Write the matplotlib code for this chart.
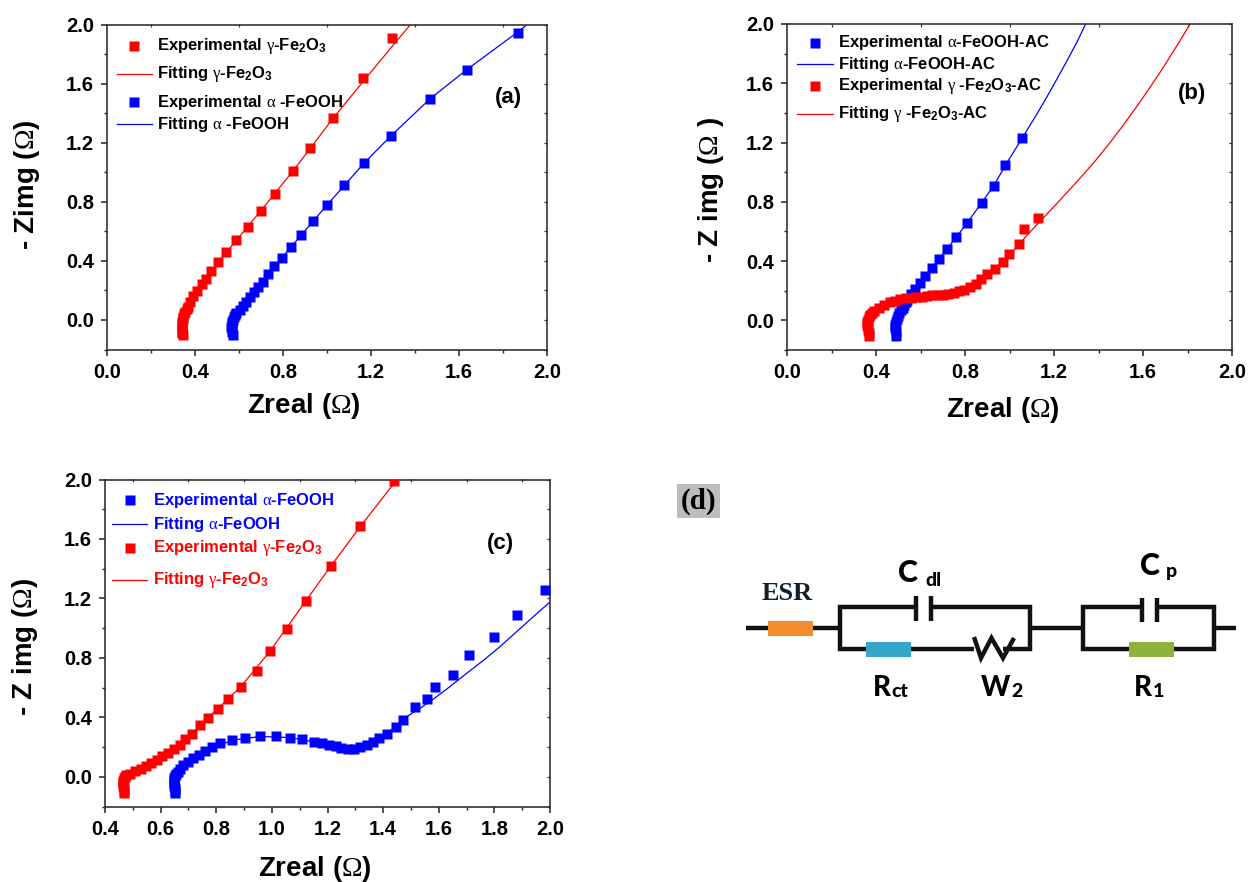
#!/usr/bin/env python

# Nyquist plots (a, b, c) and equivalent circuit (d)

import matplotlib
matplotlib.use('Agg')
import matplotlib.pyplot as plt
from matplotlib.patches import Rectangle
from matplotlib.ticker import MultipleLocator, FormatStrFormatter

plt.rcParams['font.family'] = 'Liberation Sans'
plt.rcParams['font.weight'] = 'bold'
plt.rcParams['mathtext.fontset'] = 'custom'
plt.rcParams['mathtext.rm'] = 'Liberation Sans:bold'
plt.rcParams['mathtext.it'] = 'Liberation Serif:normal'
plt.rcParams['mathtext.bf'] = 'Liberation Sans:bold'
plt.rcParams['mathtext.cal'] = 'Liberation Serif:normal'

W, H = 1249, 882
RED = '#ff0000'
BLUE = '#0000ff'

# panel a
a_red_x = [1.295, 1.162, 1.027, 0.924, 0.844, 0.764, 0.698, 0.639, 0.588, 0.542, 0.506, 0.473, 0.450,
           0.430, 0.409, 0.392, 0.379, 0.367, 0.356, 0.347, 0.342, 0.339, 0.341, 0.344,
           0.362, 0.351, 0.344, 0.340, 0.340, 0.343]
a_red_y = [1.906, 1.640, 1.364, 1.161, 1.006, 0.855, 0.737, 0.631, 0.539, 0.458, 0.395, 0.334, 0.280,
           0.241, 0.198, 0.162, 0.124, 0.090, 0.056, 0.023, -0.011, -0.045, -0.079, -0.100,
           0.073, 0.040, 0.006, -0.028, -0.062, -0.090]
a_red_fit_x = [0.344, 0.339, 0.347, 0.379, 0.430, 0.506, 0.588, 0.698, 0.844, 1.027, 1.162, 1.295, 1.380]
a_red_fit_y = [-0.100, -0.045, 0.023, 0.124, 0.241, 0.395, 0.539, 0.737, 1.006, 1.364, 1.610, 1.850, 2.000]
a_blue_x = [1.868, 1.636, 1.468, 1.291, 1.170, 1.079, 1.000, 0.936, 0.882, 0.836, 0.795, 0.761, 0.730,
            0.708, 0.688, 0.670, 0.652, 0.633, 0.618, 0.603, 0.588, 0.576, 0.568, 0.565, 0.570, 0.573,
            0.582, 0.572, 0.566, 0.567]
a_blue_y = [1.940, 1.695, 1.496, 1.247, 1.064, 0.916, 0.778, 0.670, 0.573, 0.494, 0.422, 0.363, 0.311,
            0.260, 0.221, 0.187, 0.153, 0.124, 0.095, 0.068, 0.045, 0.018, -0.011, -0.045, -0.079, -0.100,
            0.031, 0.003, -0.028, -0.062]
a_blue_fit_x = [0.573, 0.565, 0.576, 0.618, 0.670, 0.761, 0.882, 1.000, 1.170, 1.291, 1.468, 1.636, 1.868, 1.910]
a_blue_fit_y = [-0.100, -0.045, 0.018, 0.095, 0.187, 0.363, 0.573, 0.778, 1.064, 1.247, 1.496, 1.695, 1.950, 2.000]

# panel b
b_blue_x = [1.054, 0.982, 0.929, 0.878, 0.810, 0.761, 0.720, 0.681, 0.650, 0.621, 0.597, 0.576, 0.557,
            0.541, 0.528, 0.512, 0.498, 0.488, 0.487, 0.492,
            0.534, 0.520, 0.505, 0.493, 0.487, 0.489]
b_blue_y = [1.228, 1.051, 0.908, 0.790, 0.658, 0.561, 0.483, 0.412, 0.351, 0.300, 0.250, 0.215, 0.179,
            0.139, 0.105, 0.067, 0.027, -0.013, -0.051, -0.103,
            0.122, 0.086, 0.047, 0.007, -0.032, -0.077]
b_blue_fit_x = [0.492, 0.487, 0.498, 0.541, 0.621, 0.720, 0.810, 0.929, 0.987, 1.055, 1.122, 1.167, 1.212,
                1.257, 1.302, 1.344]
b_blue_fit_y = [-0.103, -0.051, 0.027, 0.139, 0.300, 0.483, 0.658, 0.908, 1.060, 1.225, 1.390, 1.505, 1.625,
                1.748, 1.875, 2.005]
b_red_x = [1.127, 1.063, 1.041, 0.996, 0.972, 0.934, 0.901, 0.874, 0.849, 0.821, 0.797, 0.773, 0.749,
           0.725, 0.701, 0.677, 0.653, 0.629, 0.605, 0.581, 0.557, 0.533, 0.509, 0.485, 0.461, 0.437,
           0.413, 0.389, 0.373, 0.362, 0.360, 0.365, 0.370,
           0.380, 0.367, 0.360, 0.362, 0.367]
b_red_y = [0.689, 0.615, 0.517, 0.450, 0.394, 0.349, 0.311, 0.277, 0.246, 0.224, 0.206, 0.195, 0.183,
           0.177, 0.172, 0.170, 0.168, 0.166, 0.161, 0.157, 0.154, 0.150, 0.143, 0.134, 0.121, 0.105,
           0.083, 0.060, 0.038, 0.004, -0.029, -0.063, -0.107,
           0.049, 0.021, -0.012, -0.046, -0.085]
b_red_fit_x = [0.370, 0.360, 0.389, 0.461, 0.605, 0.749, 0.849, 0.934, 0.996, 1.041, 1.070, 1.152, 1.212,
               1.272, 1.332, 1.392, 1.452, 1.511, 1.572, 1.631, 1.691, 1.751, 1.814]
b_red_fit_y = [-0.107, -0.029, 0.060, 0.121, 0.161, 0.183, 0.246, 0.349, 0.440, 0.505, 0.560, 0.692, 0.787,
               0.885, 0.985, 1.088, 1.200, 1.317, 1.443, 1.571, 1.707, 1.850, 2.005]

# panel c
c_red_x = [1.440, 1.318, 1.211, 1.122, 1.054, 0.993, 0.947, 0.888, 0.844, 0.808, 0.770, 0.740, 0.712,
           0.689, 0.668, 0.647, 0.626, 0.606, 0.587, 0.567, 0.548, 0.528, 0.508, 0.489, 0.476, 0.467,
           0.464, 0.467, 0.469, 0.471, 0.465, 0.465, 0.468]
c_red_y = [1.993, 1.684, 1.415, 1.183, 0.997, 0.844, 0.714, 0.605, 0.522, 0.459, 0.396, 0.345, 0.291,
           0.251, 0.217, 0.188, 0.161, 0.139, 0.116, 0.094, 0.072, 0.054, 0.036, 0.022, 0.011, -0.011,
           -0.045, -0.078, -0.108, 0.000, -0.028, -0.062, -0.093]
c_red_fit_x = [0.469, 0.464, 0.476, 0.528, 0.606, 0.689, 0.770, 0.888, 0.993, 1.122, 1.211, 1.318, 1.450]
c_red_fit_y = [-0.108, -0.045, 0.011, 0.054, 0.139, 0.251, 0.396, 0.605, 0.844, 1.183, 1.415, 1.684, 2.000]
c_blue_x = [1.983, 1.883, 1.799, 1.710, 1.651, 1.587, 1.556, 1.514, 1.470, 1.446, 1.414, 1.386, 1.364,
            1.342, 1.318, 1.295, 1.272, 1.250, 1.229, 1.207, 1.181, 1.151, 1.109, 1.065, 1.014, 0.959,
            0.905, 0.857, 0.815, 0.783, 0.759, 0.737, 0.717, 0.699, 0.682, 0.668, 0.656, 0.649, 0.647,
            0.651, 0.653, 0.661, 0.652, 0.648, 0.649, 0.652]
c_blue_y = [1.256, 1.088, 0.943, 0.820, 0.688, 0.605, 0.524, 0.468, 0.383, 0.336, 0.291, 0.260, 0.233,
            0.213, 0.197, 0.188, 0.188, 0.195, 0.206, 0.217, 0.228, 0.235, 0.251, 0.264, 0.271, 0.271,
            0.262, 0.246, 0.224, 0.197, 0.172, 0.148, 0.128, 0.101, 0.076, 0.049, 0.022, -0.011, -0.045,
            -0.078, -0.108, 0.035, 0.005, -0.028, -0.062, -0.093]
c_blue_fit_x = [0.653, 0.647, 0.656, 0.699, 0.759, 0.857, 0.959, 1.065, 1.151, 1.229, 1.295, 1.364, 1.414,
                1.485, 1.533, 1.580, 1.640, 1.700, 1.760, 1.820, 1.880, 1.940, 1.997]
c_blue_fit_y = [-0.108, -0.045, 0.022, 0.101, 0.172, 0.246, 0.271, 0.264, 0.235, 0.206, 0.188, 0.233, 0.291,
                0.405, 0.461, 0.522, 0.606, 0.696, 0.782, 0.875, 0.976, 1.077, 1.171]

# legend texts
a_legend = [r'Experimental $\gamma$-Fe$_{\mathrm{2}}$O$_{\mathrm{3}}$',
            r'Fitting $\gamma$-Fe$_{\mathrm{2}}$O$_{\mathrm{3}}$',
            r'Experimental $\alpha$ -FeOOH',
            r'Fitting $\alpha$ -FeOOH']
b_legend = [r'Experimental $\alpha$-FeOOH-AC',
            r'Fitting $\alpha$-FeOOH-AC',
            r'Experimental $\gamma$ -Fe$_{\mathrm{2}}$O$_{\mathrm{3}}$-AC',
            r'Fitting $\gamma$ -Fe$_{\mathrm{2}}$O$_{\mathrm{3}}$-AC']
c_legend = [r'Experimental $\alpha$-FeOOH',
            r'Fitting $\alpha$-FeOOH',
            r'Experimental $\gamma$-Fe$_{\mathrm{2}}$O$_{\mathrm{3}}$',
            r'Fitting $\gamma$-Fe$_{\mathrm{2}}$O$_{\mathrm{3}}$']

fig = plt.figure(figsize=(W / 100, H / 100), dpi=100)


def panel(box, xlim, xmajor, xminor):
    # box is left, right, top, bottom in pixels
    l, r, t, b = box
    ax = fig.add_axes([l / W, 1 - b / H, (r - l) / W, (b - t) / H])
    ax.set_xlim(*xlim)
    ax.set_ylim(-0.2, 2.0)
    ax.xaxis.set_major_locator(MultipleLocator(xmajor))
    ax.xaxis.set_minor_locator(MultipleLocator(xminor))
    ax.yaxis.set_major_locator(MultipleLocator(0.4))
    ax.yaxis.set_minor_locator(MultipleLocator(0.2))
    ax.xaxis.set_major_formatter(FormatStrFormatter('%.1f'))
    ax.yaxis.set_major_formatter(FormatStrFormatter('%.1f'))
    ax.set_yticks([0.0, 0.4, 0.8, 1.2, 1.6, 2.0])
    ax.tick_params(which='major', direction='out', length=4.5, width=1.1, labelsize=14.5, color='#222222',
                   pad=5, top=False, right=False)
    ax.tick_params(which='minor', direction='out', length=2.5, width=1.0, color='#222222')
    for s in ax.spines.values():
        s.set_linewidth(1.2)
        s.set_color('#333333')
    # little ticks on the top and right edges
    top = ax.secondary_xaxis('top')
    top.set_xticks(ax.get_xticks(minor=True), minor=False)
    top.tick_params(direction='in', length=2, width=0.9, labeltop=False, color='#333333')
    top.spines['top'].set_visible(False)
    rgt = ax.secondary_yaxis('right')
    rgt.set_yticks([-0.2, 0.0, 0.2, 0.4, 0.6, 0.8, 1.0, 1.2, 1.4, 1.6, 1.8, 2.0])
    rgt.tick_params(direction='in', length=2, width=0.9, labelright=False, color='#333333')
    rgt.spines['right'].set_visible(False)
    return ax


def series(ax, x, y, fx, fy, col):
    ax.plot(fx, fy, color=col, lw=0.9, zorder=2)
    ax.plot(x, y, ls='none', marker='s', ms=7.3, mec='none', color=col, zorder=3, clip_on=True)


def legend_row(label, ypx, kind, col, mark_x, line_x, text_x, tcol='black', size=12):
    # legend rows are placed in pixels, the spacing is uneven in the original
    tr = fig.transFigure
    if kind == 'marker':
        fig.add_artist(plt.Line2D([mark_x / W], [1 - ypx / H], marker='s', ms=7, mec='none', color=col,
                                  ls='none', transform=tr))
    else:
        fig.add_artist(plt.Line2D([line_x[0] / W, line_x[1] / W], [1 - ypx / H, 1 - ypx / H], color=col,
                                  lw=0.9, transform=tr))
    fig.text(text_x / W, 1 - ypx / H, label, color=tcol, fontsize=size, fontweight='bold', va='center')


OHM = r'$\mathcal{\Omega}$'

# (a)
ax = panel((107, 547, 24.5, 349.5), (0, 2), 0.4, 0.2)
series(ax, a_red_x, a_red_y, a_red_fit_x, a_red_fit_y, RED)
series(ax, a_blue_x, a_blue_y, a_blue_fit_x, a_blue_fit_y, BLUE)
fig.text(304 / W, 1 - 406 / H, 'Zreal (' + OHM + ')', fontsize=20, ha='center', va='center')
fig.text(27 / W, 1 - 185 / H, '- Zimg (' + OHM + ')', fontsize=20, rotation=90, ha='center', va='center')
fig.text(508 / W, 1 - 97 / H, '(a)', fontsize=16, ha='center', va='center')
for lab, yp, kind, col in zip(a_legend, [46, 74, 102, 124], ['marker', 'line'] * 2, [RED, RED, BLUE, BLUE]):
    legend_row(lab, yp, kind, col, 134, (117, 152), 157)

# (b)
ax = panel((787, 1232, 24, 350), (0, 2), 0.4, 0.2)
series(ax, b_blue_x, b_blue_y, b_blue_fit_x, b_blue_fit_y, BLUE)
series(ax, b_red_x, b_red_y, b_red_fit_x, b_red_fit_y, RED)
fig.text(1003 / W, 1 - 410 / H, 'Zreal (' + OHM + ')', fontsize=20, ha='center', va='center')
fig.text(711 / W, 1 - 190 / H, '- Z img (' + OHM + ' )', fontsize=20, rotation=90, ha='center', va='center')
fig.text(1192 / W, 1 - 94 / H, '(b)', fontsize=16, ha='center', va='center')
for lab, yp, kind, col in zip(b_legend, [43, 64, 86, 114], ['marker', 'line'] * 2, [BLUE, BLUE, RED, RED]):
    legend_row(lab, yp, kind, col, 815, (797, 833), 838)

# (c)
ax = panel((105, 550, 479.5, 806.5), (0.4, 2), 0.2, 0.1)
series(ax, c_red_x, c_red_y, c_red_fit_x, c_red_fit_y, RED)
series(ax, c_blue_x, c_blue_y, c_blue_fit_x, c_blue_fit_y, BLUE)
fig.text(315 / W, 1 - 869 / H, 'Zreal (' + OHM + ')', fontsize=20, ha='center', va='center')
fig.text(25 / W, 1 - 647 / H, '- Z img (' + OHM + ')', fontsize=20, rotation=90, ha='center', va='center')
fig.text(500 / W, 1 - 543 / H, '(c)', fontsize=16, ha='center', va='center')
for lab, yp, kind, col in zip(c_legend, [500, 524, 548, 580], ['marker', 'line'] * 2, [BLUE, BLUE, RED, RED]):
    legend_row(lab, yp, kind, col, 130, (112, 147), 153, tcol=col)

# (d) circuit, drawn in pixel coordinates
cx = fig.add_axes([0, 0, 1, 1], zorder=-1)
cx.set_xlim(0, W)
cx.set_ylim(H, 0)
cx.axis('off')

cx.text(698.5, 501, '(d)', fontsize=21, family='Liberation Serif', fontweight='bold', ha='center', va='center',
        bbox=dict(boxstyle='square,pad=0.12', fc='#bdbdbd', ec='none'))

wires = [([746, 840], [628, 628]),
         ([840, 840, 916], [628, 607, 607]),
         ([931, 1030, 1030], [607, 607, 628]),
         ([840, 840, 974], [628, 649, 649]),
         ([974, 981, 991.5, 1003, 1014], [637, 658, 638, 658, 638]),
         ([1003, 1030, 1030], [649, 649, 628]),
         ([1030, 1083], [628, 628]),
         ([1083, 1083, 1142], [628, 607, 607]),
         ([1157, 1214, 1214], [607, 607, 628]),
         ([1083, 1083, 1214, 1214], [628, 649, 649, 628]),
         ([1214, 1236], [628, 628]),
         ([916, 916], [596, 621]),
         ([931, 931], [596, 621]),
         ([1142, 1142], [598, 622]),
         ([1157, 1157], [598, 622])]
for wx, wy in wires:
    cx.plot(wx, wy, color='#111111', lw=3.2, solid_capstyle='butt', solid_joinstyle='miter')

boxes = [(768, 621, 45, 15, '#f28c2c'), (866, 642, 45, 15, '#35a6c9'), (1129, 642, 45, 15, '#8cb43c')]
for bx, by, bw, bh, bc in boxes:
    cx.add_patch(Rectangle((bx, by), bw, bh, fc=bc, ec='none', zorder=3))

cx.text(787, 593, 'ESR', fontsize=19, family='Liberation Serif', fontweight='bold', ha='center', va='center',
        color='#10202c')
cx.text(908, 573, 'C', fontsize=22, family='Lato', fontweight='black', ha='center', va='center')
cx.text(933, 581, 'dl', fontsize=14, family='Lato', fontweight='black', ha='center', va='center')
cx.text(1150, 566, 'C', fontsize=22, family='Lato', fontweight='black', ha='center', va='center')
cx.text(1171, 572, 'p', fontsize=14, family='Lato', fontweight='black', ha='center', va='center')
for tx, ty, big, small in [(882, 688, 'R', 'ct'), (996, 688, 'W', '2'), (1143, 688, 'R', '1')]:
    t = cx.annotate(big, (tx, ty), fontsize=20, family='Lato', fontweight='black', ha='center', va='center')
    cx.annotate(small, xy=(1, 0), xycoords=t, xytext=(0.5, 1), textcoords='offset points', fontsize=14,
                family='Lato', fontweight='black', ha='left', va='bottom')

plt.savefig('out.png', dpi=100)
